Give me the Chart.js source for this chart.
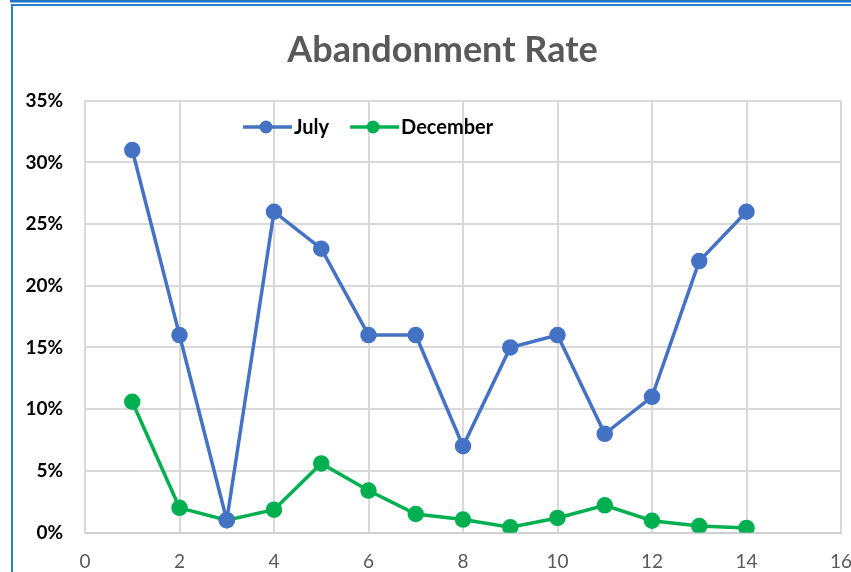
<!DOCTYPE html>
<html>
<head>
<meta charset="utf-8">
<script src="https://cdn.jsdelivr.net/npm/chart.js@4.4.0/dist/chart.umd.min.js"></script>
<style>
  html, body { margin: 0; padding: 0; background: #fff; }
  #wrap { position: relative; width: 851px; height: 572px; overflow: hidden; }
  #chart { position: absolute; left: 0; top: 0; }
  .topbar { position: absolute; left: 10px; top: 0; right: 0; height: 2px; background: #1f73c6; }
  .topbar2 { position: absolute; left: 10px; top: 2px; right: 0; height: 1px; background: #8db9e4; }
  .frame { position: absolute; left: 11px; top: 4px; width: 900px; height: 600px;
           border-left: 2px solid #2a7dcf; border-top: 2px solid #2a7dcf; }
</style>
</head>
<body>
<div id="wrap">
  <canvas id="chart" width="851" height="572"></canvas>
  <div class="topbar"></div>
  <div class="topbar2"></div>
  <div class="frame"></div>
</div>
<script>
const xValues = [1, 2, 3, 4, 5, 6, 7, 8, 9, 10, 11, 12, 13, 14];
const july = [0.31, 0.16, 0.01, 0.26, 0.23, 0.16, 0.16, 0.07, 0.15, 0.16, 0.08, 0.11, 0.22, 0.26];
const december = [0.106, 0.020, 0.010, 0.0185, 0.056, 0.034, 0.015, 0.0105, 0.0042, 0.0118, 0.022, 0.0095, 0.0052, 0.0037];
const seriesNames = ['July', 'December'];
const seriesColors = ['#4472C4', '#00B050'];

const toPoints = (vals) => vals.map((v, i) => ({ x: xValues[i], y: v }));

// legend drawn inside the plot, line + marker like the original
const insideLegend = {
  id: 'insideLegend',
  afterDraw(chart) {
    const ctx = chart.ctx;
    let x = 243;
    const y = 127;
    ctx.save();
    ctx.font = 'bold 20px Lato';
    ctx.textBaseline = 'middle';
    chart.data.datasets.forEach((ds) => {
      ctx.strokeStyle = ds.borderColor;
      ctx.lineWidth = 3.5;
      ctx.beginPath();
      ctx.moveTo(x, y);
      ctx.lineTo(x + 49, y);
      ctx.stroke();
      ctx.fillStyle = ds.borderColor;
      ctx.beginPath();
      ctx.arc(x + 23, y, 6.5, 0, Math.PI * 2);
      ctx.fill();
      ctx.fillStyle = '#000';
      ctx.fillText(ds.label, x + 51, y + 1);
      x += 51 + ctx.measureText(ds.label).width + 21;
    });
    ctx.restore();
  }
};

// the original title is centred on the framed area, not the whole image
const shiftTitle = {
  id: 'shiftTitle',
  afterLayout(chart) {
    if (chart.titleBlock) chart.titleBlock.left = 42;
  }
};

new Chart(document.getElementById('chart'), {
  type: 'line',
  data: {
    datasets: [
      {
        label: seriesNames[0],
        data: toPoints(july),
        borderColor: seriesColors[0],
        backgroundColor: seriesColors[0],
        borderWidth: 3.5,
        pointRadius: 6.5,
        pointHoverRadius: 6.5,
        tension: 0
      },
      {
        label: seriesNames[1],
        data: toPoints(december),
        borderColor: seriesColors[1],
        backgroundColor: seriesColors[1],
        borderWidth: 3.5,
        pointRadius: 6.5,
        pointHoverRadius: 6.5,
        tension: 0
      }
    ]
  },
  options: {
    responsive: false,
    animation: false,
    layout: { padding: { left: 0, right: 8, top: 0, bottom: 0 } },
    plugins: {
      legend: { display: false },
      tooltip: { enabled: false },
      title: {
        display: true,
        text: 'Abandonment Rate',
        color: '#595959',
        font: { family: 'Lato', size: 36, weight: 'bold', lineHeight: 1.2 },
        padding: { top: 29, bottom: 28.5 }
      }
    },
    scales: {
      x: {
        type: 'linear',
        min: 0,
        max: 16,
        ticks: {
          stepSize: 2,
          padding: 18,
          color: '#595959',
          font: { family: 'Lato', size: 19 }
        },
        grid: { color: '#d9d9d9', lineWidth: 2, drawTicks: false },
        border: { color: '#d0d0d0', width: 2 },
        afterFit(s) {
          s.height = 39.5;
          s.paddingLeft = 0;
          s.paddingRight = 0;
        }
      },
      y: {
        min: 0,
        max: 0.35,
        ticks: {
          stepSize: 0.05,
          padding: 22,
          color: '#000',
          font: { family: 'Lato', size: 19, weight: 'bold' },
          callback: (v) => Math.round(v * 100) + '%'
        },
        grid: { color: '#d9d9d9', lineWidth: 2, drawTicks: false },
        border: { color: '#d9d9d9', width: 2 },
        afterFit(s) { s.width = 85; }
      }
    }
  },
  plugins: [insideLegend, shiftTitle]
});
</script>
</body>
</html>
